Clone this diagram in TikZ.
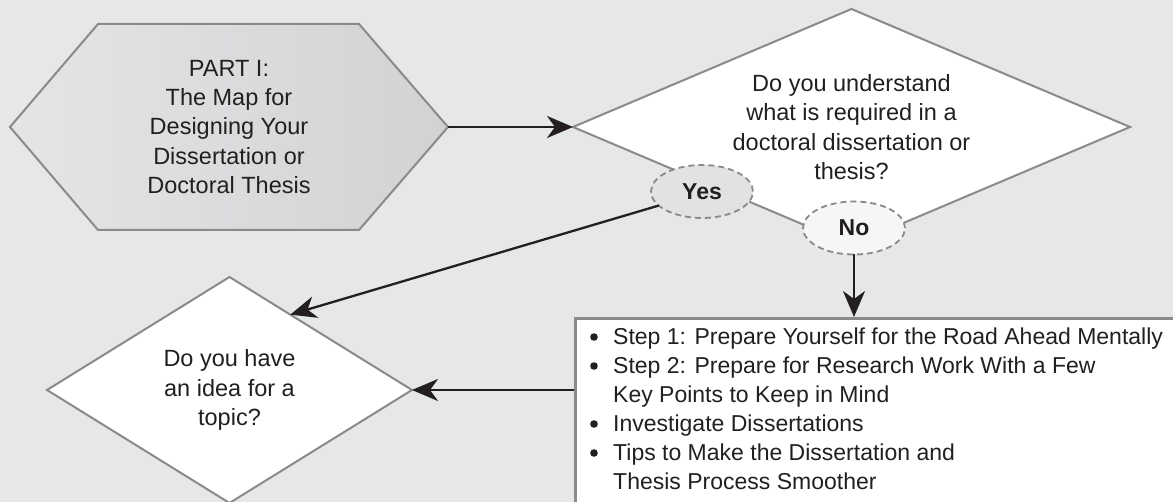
\documentclass[tikz,border=0pt]{standalone}
\usepackage{fontspec}
\setmainfont{Liberation Sans}
\usetikzlibrary{shapes.geometric, arrows.meta, calc}
\definecolor{bg}{HTML}{E6E7E8}
\definecolor{edge}{HTML}{8A8A8A}
\definecolor{ink}{HTML}{231F20}
\definecolor{yesfill}{HTML}{E1E2E4}
\definecolor{nofill}{HTML}{F6F6F6}
\definecolor{hexL}{HTML}{E4E5E7}
\definecolor{hexR}{HTML}{D1D2D4}
\tikzset{
  txt/.style={font=\fontsize{23.5}{29.3}\selectfont, text=ink, align=center},
  question/.style={diamond, draw=edge, line width=2pt, fill=white, inner sep=0pt, outer sep=0pt, txt},
  answer/.style={ellipse, draw=edge, line width=1.8pt, dash pattern=on 6pt off 4pt, minimum width=102pt, minimum height=53pt, inner sep=0pt, outer sep=0pt, font=\fontsize{23}{28}\selectfont\bfseries, text=ink},
  arr/.style={draw=ink, line width=2.3pt, -{Stealth[length=26pt, width=22pt, inset=8pt]}},
  dot/.style={fill=ink},
}
\begin{document}
\begin{tikzpicture}[x=1pt, y=-1pt]
\fill[bg] (0,0) rectangle (1173,502);
\useasboundingbox (0,0) rectangle (1173,502);
\clip (0,0) rectangle (1173,502);

% hexagon
\path[draw=edge, line width=2pt, left color=hexL, right color=hexR]
  (10,127) -- (98,24) -- (359,24) -- (448,127) -- (359,230) -- (98,230) -- cycle;
\node[txt] (part) at (229,127) {PART I:\\The Map for\\Designing Your\\Dissertation or\\Doctoral Thesis};
\coordinate (partE) at (448,127);

\node[question, aspect=2.36, minimum width=557pt, minimum height=236pt] (q1) at (851.5,127)
  {Do you understand\\what is required in a\\doctoral dissertation or\\thesis?};
\node[question, aspect=1.615, minimum width=365pt, minimum height=226pt] (q2) at (229.5,390)
  {Do you have\\an idea for a\\topic?};

\node[answer, fill=yesfill] (yes) at (702,191.5) {Yes};
\node[answer, fill=nofill] (no) at (854,228) {No};

\node[draw=edge, line width=3pt, fill=white, anchor=north west, minimum width=640pt, minimum height=220pt, inner sep=0pt] (box) at (574,317) {};
\node[anchor=base west, inner sep=0pt, font=\fontsize{23}{29}\selectfont, text=ink] (list) at (613,345)
  {\begin{tabular}[t]{@{}l@{}}
   Step 1: Prepare Yourself for the Road Ahead Mentally\\
   Step 2: Prepare for Research Work With a Few\\
   Key Points to Keep in Mind\\
   Investigate Dissertations\\
   Tips to Make the Dissertation and\\
   Thesis Process Smoother
   \end{tabular}};
\foreach \b in {337,366,424,453} \fill[dot] (594,\b) circle (3.8pt);

\coordinate (q2NE) at ($(q2.north)!0.333!(q2.east)$);
\draw[arr] (partE) -- (q1.west);
\draw[arr] (yes.198) -- (q2NE);
\draw[arr] (no.south) -- (no.south |- box.north);
\draw[arr] (box.west |- q2.east) -- (q2.east);
\end{tikzpicture}
\end{document}
